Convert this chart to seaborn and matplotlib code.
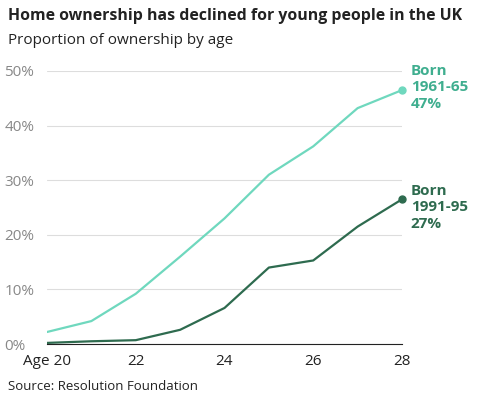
import matplotlib
matplotlib.use("Agg")
import matplotlib.pyplot as plt
import seaborn as sns
import pandas as pd

ages = [20, 21, 22, 23, 24, 25, 26, 27, 28]
born_1961 = [2.2, 4.2, 9.2, 16.0, 23.0, 31.0, 36.2, 43.2, 46.5]
born_1991 = [0.2, 0.5, 0.7, 2.6, 6.6, 14.0, 15.3, 21.5, 26.5]
xticks = [20, 22, 24, 26, 28]
xlabels = ["Age 20", "22", "24", "26", "28"]
yticks = [0, 10, 20, 30, 40, 50]

sns.set_style("white")
plt.rcParams['font.family'] = ['Open Sans', 'DejaVu Sans']

c1 = "#6fd8be"
c2 = "#2e6b4f"
df = pd.DataFrame({"age": ages * 2, "val": born_1961 + born_1991,
                   "cohort": ["1961"] * 9 + ["1991"] * 9})

fig = plt.figure(figsize=(4.8, 4.03), dpi=100)
ax = fig.add_axes([47/480, 1-344/403, (402-47)/480, (344-71)/403])
sns.lineplot(data=df, x="age", y="val", hue="cohort", palette=[c1, c2],
             ax=ax, legend=False, linewidth=1.6)
ax.plot([28], [born_1961[-1]], "o", color=c1, ms=5, clip_on=False)
ax.plot([28], [born_1991[-1]], "o", color=c2, ms=5, clip_on=False)
ax.set_xlim(20, 28)
ax.set_ylim(0, 50)
ax.set_xticks(xticks)
ax.set_xticklabels(xlabels)
ax.set_yticks(yticks)
ax.set_yticklabels([f"{v}%" for v in yticks])
ax.set_xlabel("")
ax.set_ylabel("")
ax.grid(axis="y", color="#dddddd", linewidth=0.8)
for s in ["top", "right", "left"]:
    ax.spines[s].set_visible(False)
ax.spines["bottom"].set_color("#222222")
ax.tick_params(axis="y", length=0, labelsize=11, labelcolor="#888888", pad=2)
ax.tick_params(axis="x", length=4, labelsize=11, labelcolor="#222222", color="#222222")
for lab in ax.get_yticklabels():
    lab.set_horizontalalignment("left")
    lab.set_x(-40/355)
ax.text(28.2, born_1961[-1] + 0.5, "Born\n1961-65\n47%", color="#3fae8f",
        fontsize=11, fontweight="bold", va="center", linespacing=1.25)
ax.text(28.2, born_1991[-1] - 1.5, "Born\n1991-95\n27%", color=c2,
        fontsize=11, fontweight="bold", va="center", linespacing=1.25)
fig.text(8/480, 1-16/403, "Home ownership has declined for young people in the UK",
         fontsize=11.4, fontweight="bold", va="center", color="#222222")
fig.text(8/480, 1-40/403, "Proportion of ownership by age", fontsize=11,
         va="center", color="#222222")
fig.text(8/480, 1-387/403, "Source: Resolution Foundation", fontsize=9.5,
         va="center", color="#222222")
fig.savefig("out.png", dpi=100)
